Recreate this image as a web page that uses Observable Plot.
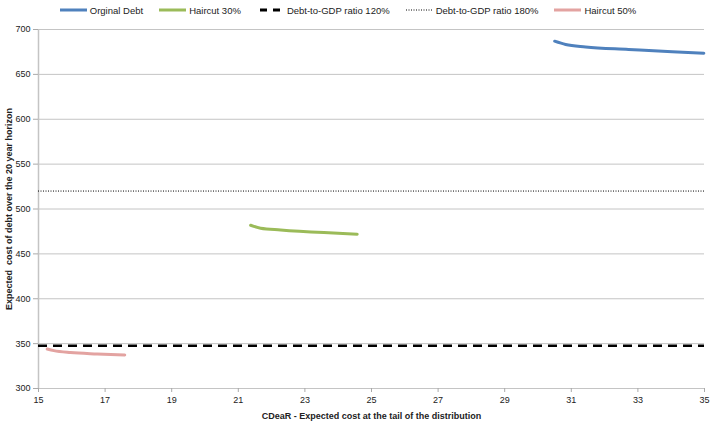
<!DOCTYPE html>
<html><head><meta charset="utf-8">
<script src="https://cdn.jsdelivr.net/npm/d3@7"></script>
<script src="https://cdn.jsdelivr.net/npm/@observablehq/plot@0.6"></script>
<style>
body{margin:0;background:#fff;font-family:"Liberation Sans",Arial,sans-serif;}
#legend{height:20px;display:flex;justify-content:center;align-items:center;font-size:9.5px;color:#222;box-sizing:border-box;padding-right:14px;}
#legend .item{display:flex;align-items:center;margin:0 8px;}
#legend svg{margin-right:3px;display:block;}
#chart svg g[aria-label="y-axis label"] text,#chart svg g[aria-label="x-axis label"] text{font-weight:bold;font-size:9px;fill:#222;}
</style></head>
<body>
<div id="legend"></div>
<div id="chart"></div>
<script>
// Data
const origX = [30.50, 30.83, 31.43, 32.72, 34.03, 34.98];
const origY = [687.0, 683.3, 680.6, 677.8, 675.1, 673.6];
const h30X = [21.37, 21.67, 22.27, 23.57, 24.57];
const h30Y = [481.9, 478.6, 476.7, 473.7, 472.0];
const h50X = [15.26, 15.46, 15.96, 16.76, 17.59];
const h50Y = [344.0, 342.2, 340.0, 338.5, 337.4];
const ratio120 = 347.5;
const ratio180 = 520;
const xTicks = [15,17,19,21,23,25,27,29,31,33,35];
const yTicks = [300,350,400,450,500,550,600,650,700];
const seriesNames = ["Orginal Debt","Haircut 30%","Debt-to-GDP ratio 120%","Debt-to-GDP ratio 180%","Haircut 50%"];

const BLUE="#4F81BD", GREEN="#9BBB59", PINK="#E3A3A1";

const toPts = (xs, ys) => xs.map((x,i)=>({x, y: ys[i]}));
const orig = toPts(origX, origY), h30 = toPts(h30X, h30Y), h50 = toPts(h50X, h50Y);

// Legend
const legendStyles = [
  {stroke:BLUE, w:3, dash:null},
  {stroke:GREEN, w:3, dash:null},
  {stroke:"#000", w:3, dash:"7,6"},
  {stroke:"#000", w:1, dash:"1,1.5"},
  {stroke:PINK, w:3, dash:null}
];
const leg = document.getElementById("legend");
seriesNames.forEach((n,i)=>{
  const s = legendStyles[i];
  const d = document.createElement("div"); d.className="item";
  d.innerHTML = `<svg width="27" height="6"><line x1="${s.dash && s.w>1?3:0}" x2="27" y1="3" y2="3" stroke="${s.stroke}" stroke-width="${s.w}" ${s.dash?`stroke-dasharray="${s.dash}"`:""}/></svg><span>${n}</span>`;
  leg.appendChild(d);
});

const chart = Plot.plot({
  width: 710, height: 404,
  marginTop: 9, marginBottom: 36, marginLeft: 38, marginRight: 6,
  style: {fontFamily: '"Liberation Sans",Arial,sans-serif', fontSize: "9px", color:"#222"},
  x: {domain: [15,35], ticks: xTicks},
  y: {domain: [300,700], ticks: yTicks},
  marks: [
    Plot.ruleY(yTicks, {stroke:"#c4c4c4", strokeWidth:1}),
    Plot.ruleX([15], {stroke:"#c4c4c4", strokeWidth:1.5}),
    Plot.axisY({ticks: yTicks, tickSize: 5, stroke:"#aaa", tickPadding: 3, label: "Expected  cost of debt over the 20 year horizon", labelAnchor:"center", labelArrow:"none", labelOffset: 33}),
    Plot.axisX({ticks: xTicks, tickSize: 4, stroke:"#aaa", tickPadding: 4, label: "CDeaR - Expected cost at the tail of the distribution", labelAnchor:"center", labelArrow:"none", labelOffset: 30}),
    Plot.ruleY([ratio180], {stroke:"#000", strokeWidth:1, strokeDasharray:"1,1.5"}),
    Plot.ruleY([ratio120], {stroke:"#000", strokeWidth:2.5, strokeDasharray:"9,6"}),
    Plot.line(orig, {x:"x", y:"y", stroke:BLUE, strokeWidth:3, curve:"monotone-x"}),
    Plot.line(h30, {x:"x", y:"y", stroke:GREEN, strokeWidth:3, curve:"monotone-x"}),
    Plot.line(h50, {x:"x", y:"y", stroke:PINK, strokeWidth:3, curve:"monotone-x"})
  ]
});
document.getElementById("chart").appendChild(chart);
</script>
</body></html>
